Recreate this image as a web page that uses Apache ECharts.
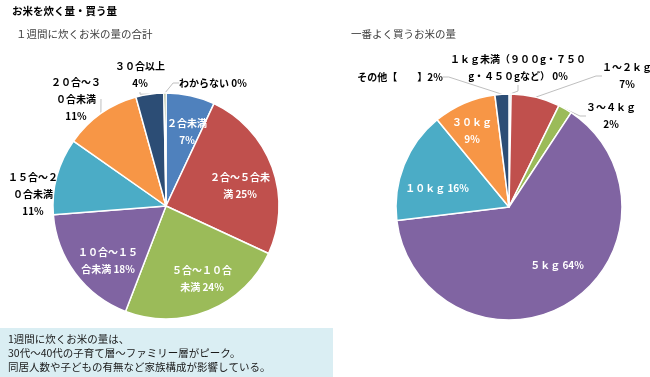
<!DOCTYPE html>
<html>
<head>
<meta charset="utf-8">
<script src="https://cdn.jsdelivr.net/npm/echarts@6/dist/echarts.min.js"></script>
<style>
    html, body { margin: 0; padding: 0; background: #fff; }
    #chart { width: 650px; height: 377px; }
</style>
</head>
<body>
<div id="chart"></div>
<script>
// 1週間に炊くお米の量の合計
const cookNames = ['２合未満', '２合～５合未満', '５合～１０合未満', '１０合～１５合未満', '１５合～２０合未満', '２０合～３０合未満', '３０合以上', 'わからない'];
const cookValues = [7, 25, 24, 18, 11, 11, 4, 0.3];
const cookLabelText = ['２合未満\n{p}', '２合～５合未\n満 {p}', '５合～１０合\n未満 {p}', '１０合～１５\n合未満 {p}', '１５合～２\n０合未満\n{p}', '２０合～３\n０合未満\n{p}', '３０合以上\n{p}', 'わからない {p}'];

// 一番よく買うお米の量
const buyNames = ['１ｋｇ未満', '１～２ｋｇ', '３～４ｋｇ', '５ｋｇ', '１０ｋｇ', '３０ｋｇ', 'その他'];
const buyValues = [0.3, 7, 2, 64, 16, 9, 2];
const buyLabelText = ['１ｋｇ未満（９００g・７５０\ng・４５０gなど） {p}', '１～２ｋｇ\n{p}', '３～４ｋｇ\n{p}', '５ｋｇ {p}', '１０ｋｇ {p}', '３０ｋｇ\n{p}', 'その他【　　】{p}'];

const palette = ['#4F81BD', '#C0504D', '#9BBB59', '#8064A2', '#4BACC6', '#F79646', '#2C4D75', '#5F7530'];
const FONT = '"Noto Sans CJK JP", "Noto Sans", sans-serif';

// label placement (centre of label block) and whether it sits inside the slice
const cookLabelPos = [[187, 132, 1], [240, 186, 1], [202, 279, 1], [108, 261, 1], [33, 194, 0], [76, 99, 0], [140, 75, 0], [213, 83, 0]];
const buyLabelPos = [[518, 68, 0], [627, 76, 0], [611, 116, 0], [557, 265, 1], [437, 188, 1], [472, 131, 1], [400, 77, 0]];

function buildData(names, values, texts, pos) {
    return names.map((n, i) => ({
        name: n,
        value: values[i],
        itemStyle: { color: palette[i] },
        label: {
            formatter: texts[i].replace('{p}', Math.round(values[i]) + '%'),
            color: pos[i][2] ? '#ffffff' : '#000000',
            position: pos[i][2] ? 'inside' : 'outside'
        },
        labelLine: { show: !pos[i][2] }
    }));
}

function layoutFor(pos) {
    return function (params) {
        const p = pos[params.dataIndex];
        return { x: p[0], y: p[1], align: 'center', verticalAlign: 'middle' };
    };
}

const pieBase = {
    type: 'pie',
    radius: 113,
    startAngle: 90,
    clockwise: true,
    avoidLabelOverlap: false,
    animation: false,
    itemStyle: { borderColor: '#ffffff', borderWidth: 1.5 },
    label: {
        fontFamily: FONT,
        fontSize: 10,
        fontWeight: 'bold',
        lineHeight: 17,
        align: 'center'
    },
    labelLine: {
        length: 6,
        length2: 6,
        lineStyle: { color: '#BFBFBF', width: 1 }
    },
    emphasis: { disabled: true }
};

const chart = echarts.init(document.getElementById('chart'), null, { renderer: 'canvas' });
chart.setOption({
    backgroundColor: '#ffffff',
    animation: false,
    title: [
        { text: 'お米を炊く量・買う量', left: 7, top: 1, textStyle: { fontFamily: FONT, fontSize: 10.5, fontWeight: 'bold', color: '#000' } },
        { text: '１週間に炊くお米の量の合計', left: 11, top: 24, textStyle: { fontFamily: FONT, fontSize: 10.5, fontWeight: 'normal', color: '#404040' } },
        { text: '一番よく買うお米の量', left: 346, top: 24, textStyle: { fontFamily: FONT, fontSize: 10.5, fontWeight: 'normal', color: '#404040' } }
    ],
    graphic: [
        {
            type: 'rect',
            shape: { x: 0, y: 328, width: 333, height: 49 },
            style: { fill: '#DAEEF3' },
            z: -1
        },
        {
            type: 'text',
            left: 8,
            top: 332,
            style: {
                text: '1週間に炊くお米の量は、\n30代～40代の子育て層～ファミリー層がピーク。\n同居人数や子どもの有無など家族構成が影響している。',
                font: '10.5px ' + FONT,
                lineHeight: 14,
                fill: '#1a1a1a'
            }
        }
    ],
    series: [
        Object.assign({}, pieBase, {
            name: 'cook',
            center: [166, 206],
            data: buildData(cookNames, cookValues, cookLabelText, cookLabelPos),
            labelLayout: layoutFor(cookLabelPos)
        }),
        Object.assign({}, pieBase, {
            name: 'buy',
            center: [509, 207],
            data: buildData(buyNames, buyValues, buyLabelText, buyLabelPos),
            labelLayout: layoutFor(buyLabelPos)
        })
    ]
});
</script>
</body>
</html>
